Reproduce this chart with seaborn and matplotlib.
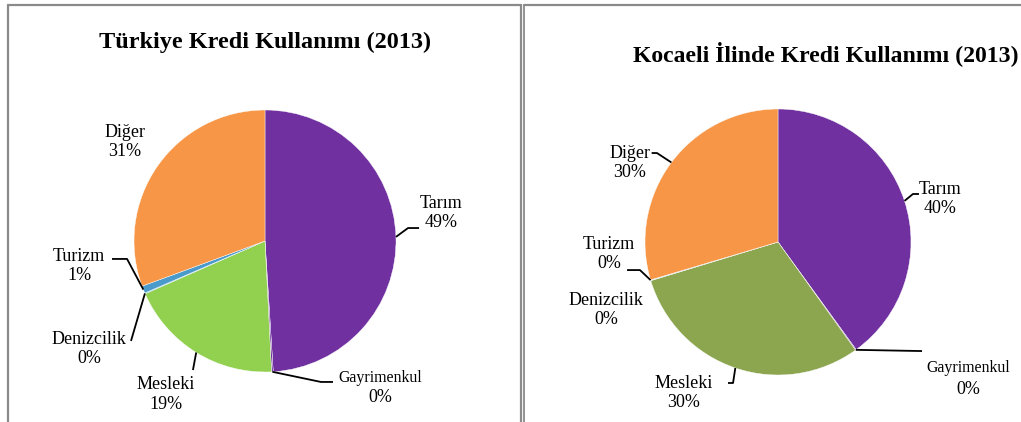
import numpy as np
import matplotlib.pyplot as plt
from matplotlib.lines import Line2D
import seaborn as sns

sns.set_style("white")
plt.rcParams['font.family'] = ['Liberation Serif', 'DejaVu Serif']
plt.rcParams['text.color'] = 'black'

# data (shares in %)
sectors = ["Tarım", "Gayrimenkul", "Mesleki", "Denizcilik", "Turizm", "Diğer"]
turkiye_share = [49.0, 0.2, 19.2, 0.1, 0.9, 30.6]
kocaeli_share = [40.0, 0.1, 30.2, 0.05, 0.05, 29.6]
turkiye_pct = ["49%", "0%", "19%", "0%", "1%", "31%"]
kocaeli_pct = ["40%", "0%", "30%", "0%", "0%", "30%"]

turkiye_colors = ["#7030A0", "#7030A0", "#92D050", "#4BACC6", "#4A9BCB", "#F79646"]
kocaeli_colors = ["#7030A0", "#7030A0", "#8BA64E", "#4BACC6", "#4BACC6", "#F79646"]

W, H = 1021, 422
fig = plt.figure(figsize=(W / 100, H / 100), dpi=100)

# label text position + leader path (radius units), per sector
turkiye_labels = [
    ((1.344, 0.214), [(1.092, 0.099), (1.176, 0.099)]),
    ((0.878, -1.118), [(0.427, -1.076), (0.519, -1.076)]),
    ((-0.756, -1.172), [(-0.55, -0.985)]),
    ((-1.344, -0.824), [(-1.023, -0.763)]),
    ((-1.420, -0.191), [(-1.053, -0.137), (-1.168, -0.137)]),
    ((-1.069, 0.756), []),
]
kocaeli_labels = [
    ((1.218, 0.323), [(1.015, 0.361), (1.060, 0.361)]),
    ((1.429, -1.026), [(1.083, -0.820)]),
    ((-0.707, -1.135), [(-0.338, -1.060), (-0.376, -1.060)]),
    ((-1.293, -0.511), []),
    ((-1.271, -0.090), [(-1.038, -0.211), (-1.135, -0.211)]),
    ((-1.113, 0.594), [(-0.910, 0.669), (-0.950, 0.669)]),
]


def draw_pie(cx, cy, r, values, colors, pcts, labels, title, tx, ty, tsize):
    ax = fig.add_axes([(cx - r) / W, (H - cy - r) / H, 2 * r / W, 2 * r / H])
    wedges, _ = ax.pie(values, colors=colors, startangle=90, counterclock=False,
                       radius=1, wedgeprops=dict(edgecolor="white", linewidth=0.3))
    ax.set_xlim(-1, 1)
    ax.set_ylim(-1, 1)
    ax.axis("off")
    for w, name, pct, (pos, path) in zip(wedges, sectors, pcts, labels):
        mid = np.deg2rad((w.theta1 + w.theta2) / 2)
        if path:
            xs = [np.cos(mid)] + [p[0] for p in path]
            ys = [np.sin(mid)] + [p[1] for p in path]
            ax.plot(xs, ys, color="black", lw=1.3, clip_on=False, solid_capstyle="butt")
        if name == "Gayrimenkul":
            ax.text(pos[0], pos[1] + 0.075, name, ha="center", va="center", fontsize=11.4)
            ax.text(pos[0], pos[1] - 0.08, pct, ha="center", va="center", fontsize=13)
        else:
            ax.text(pos[0], pos[1], name + "\n" + pct, ha="center", va="center",
                    fontsize=13, linespacing=1.2)
    fig.text(tx / W, 1 - ty / H, title, ha="center", va="center",
             fontsize=tsize, fontweight="bold")


draw_pie(265, 241, 131, turkiye_share, turkiye_colors, turkiye_pct, turkiye_labels,
         "Türkiye Kredi Kullanımı (2013)", 265, 42, 17.5)
draw_pie(778, 242, 133, kocaeli_share, kocaeli_colors, kocaeli_pct, kocaeli_labels,
         "Kocaeli İlinde Kredi Kullanımı (2013)", 826, 54, 17.1)

# panel borders
border = "#8a8a8a"
for xs, ys, lw in [
    ([8, 8], [5, H], 1.6),
    ([8, 521], [5, 5], 1.6),
    ([521, 521], [5, H], 1.6),
    ([524, 524], [5, H], 1.3),
    ([524, W], [5, 5], 1.6),
]:
    fig.add_artist(Line2D([x / W for x in xs], [1 - y / H for y in ys],
                          color=border, lw=lw))

fig.savefig("out.png", dpi=100, facecolor="white")
